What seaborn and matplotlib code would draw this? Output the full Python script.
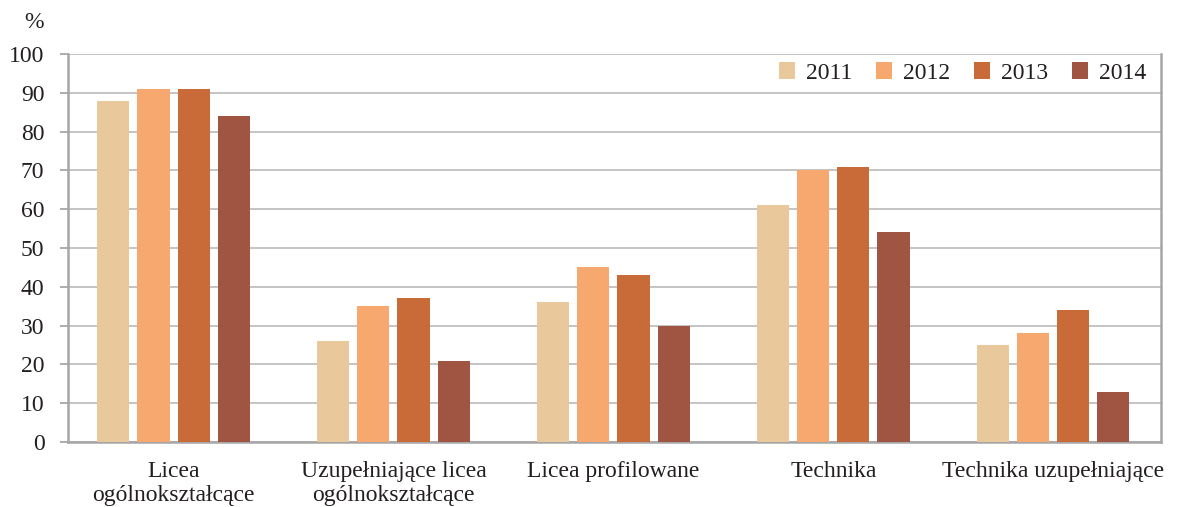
import matplotlib
matplotlib.use("Agg")
import matplotlib.pyplot as plt
import seaborn as sns
import pandas as pd

categories = [
    "Licea\nogólnokształcące",
    "Uzupełniające licea\nogólnokształcące",
    "Licea profilowane",
    "Technika",
    "Technika uzupełniające",
]
years = ["2011", "2012", "2013", "2014"]
values_2011 = [88, 26, 36, 61, 25]
values_2012 = [91, 35, 45, 70, 28]
values_2013 = [91, 37, 43, 71, 34]
values_2014 = [84, 21, 30, 54, 13]
colors = ["#E9C99B", "#F7A86F", "#C96B38", "#A05442"]

rows = []
for year, vals in zip(years, [values_2011, values_2012, values_2013, values_2014]):
    for cat, v in zip(categories, vals):
        rows.append({"kategoria": cat, "rok": year, "wartosc": v})
df = pd.DataFrame(rows)

sns.set_theme(style="white")
plt.rcParams["font.family"] = ["Liberation Serif", "DejaVu Serif"]

fig = plt.figure(figsize=(11.8, 5.07), dpi=100)
ax = fig.add_axes([68 / 1180, 1 - 442 / 507, (1161 - 68) / 1180, (442 - 54) / 507])

sns.barplot(
    data=df, x="kategoria", y="wartosc", hue="rok",
    order=categories, hue_order=years, palette=colors,
    width=0.73, gap=0.2, saturation=1, linewidth=0, ax=ax, zorder=3,
)

ax.set_ylim(0, 100)
ax.set_yticks(range(0, 101, 10))
ax.set_xlim(-0.48, len(categories) - 0.51)
ax.yaxis.grid(True, color="#BFBFBF", linewidth=1.3, zorder=0)
ax.set_axisbelow(True)
ax.set_xlabel("")
ax.set_ylabel("")

for side in ["left", "right", "bottom"]:
    ax.spines[side].set_visible(True)
    ax.spines[side].set_color("#A6A6A6")
    ax.spines[side].set_linewidth(1.8)
ax.spines["top"].set_visible(False)

ax.tick_params(axis="y", which="major", left=True, length=6, width=1.3,
               color="#A6A6A6", labelsize=17, labelcolor="#231F20", pad=11)
ax.tick_params(axis="x", bottom=False, labelsize=17, labelcolor="#231F20", pad=8)
for lbl in ax.get_xticklabels():
    lbl.set_linespacing(1.13)

fig.text(34 / 1180, 1 - 22 / 507, "%", fontsize=17, color="#231F20",
         ha="center", va="center")

leg = ax.legend(
    loc="center right", bbox_to_anchor=((1146 - 68) / 1093, (442 - 73) / 388),
    ncol=4, frameon=False, fontsize=17,
    handlelength=0.7, handleheight=0.7, handletextpad=0.45, columnspacing=1.0,
    borderpad=0, borderaxespad=0,
)
for t in leg.get_texts():
    t.set_color("#231F20")

fig.savefig("out.png", dpi=100)
